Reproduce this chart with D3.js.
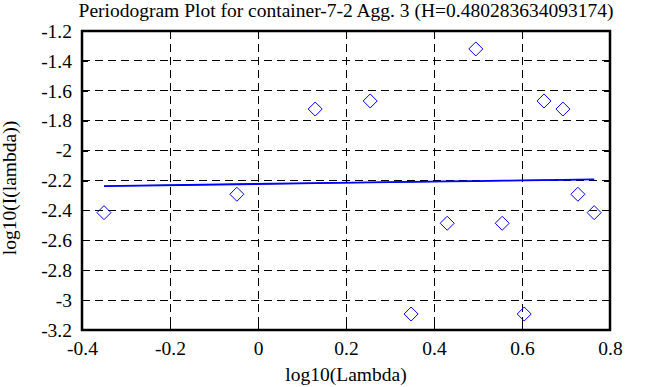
<!DOCTYPE html>
<html><head><meta charset="utf-8">
<script src="https://cdn.jsdelivr.net/npm/d3@7"></script>
<style>html,body{margin:0;padding:0;background:#fff}svg{display:block}svg text{font-family:"Liberation Serif","Times New Roman",serif !important;fill:#000}</style>
</head><body>
<script>
const titleText = "Periodogram Plot for container-7-2 Agg. 3 (H=0.480283634093174)";
const logLambda = [-0.350, -0.048, 0.130, 0.255, 0.348, 0.430, 0.495, 0.555, 0.605, 0.650, 0.693, 0.727, 0.764];
const logI = [-2.415, -2.292, -1.722, -1.668, -3.093, -2.486, -1.320, -2.486, -3.093, -1.668, -1.722, -2.292, -2.415];
const fitI = [-2.237, -2.225, -2.218, -2.213, -2.209, -2.206, -2.204, -2.201, -2.199, -2.197, -2.196, -2.194, -2.193];
const xTicks = [-0.4, -0.2, 0, 0.2, 0.4, 0.6, 0.8];
const yTicks = [-1.2, -1.4, -1.6, -1.8, -2, -2.2, -2.4, -2.6, -2.8, -3, -3.2];

const W = 668, H = 387;
const L = 82, R = 610, T = 31, B = 330;
const FS = "19.5px";
const svg = d3.select("body").append("svg").attr("width", W).attr("height", H);
const x = d3.scaleLinear().domain([-0.4, 0.8]).range([L, R]);
const y = d3.scaleLinear().domain([-3.2, -1.2]).range([B, T]);

// grid
const g = svg.append("g");
xTicks.slice(1, -1).forEach(t => {
  g.append("line").attr("x1", x(t)).attr("x2", x(t)).attr("y1", T).attr("y2", B)
    .attr("stroke", "#000").attr("stroke-width", 1).attr("stroke-dasharray", "8,5")
    .attr("shape-rendering", "crispEdges");
});
yTicks.slice(1, -1).forEach(t => {
  g.append("line").attr("x1", L).attr("x2", R).attr("y1", y(t)).attr("y2", y(t))
    .attr("stroke", "#000").attr("stroke-width", 1).attr("stroke-dasharray", "8,5")
    .attr("shape-rendering", "crispEdges");
});

// axes
const lab = d => String(+d.toFixed(1));
const xAxis = d3.axisBottom(x).tickValues(xTicks).tickFormat(lab).tickSize(-6).tickPadding(11);
const xAxisTop = d3.axisTop(x).tickValues(xTicks).tickFormat("").tickSize(-6);
const yAxis = d3.axisLeft(y).tickValues(yTicks).tickFormat(lab).tickSize(-6).tickPadding(10);
const yAxisR = d3.axisRight(y).tickValues(yTicks).tickFormat("").tickSize(-6);

function style(sel) {
  sel.attr("font-family", null).attr("font-size", null);
  sel.select(".domain").remove();
  sel.selectAll(".tick line").attr("stroke", "#000").attr("stroke-width", 1).attr("shape-rendering", "crispEdges");
  sel.selectAll(".tick text").style("font-size", FS).attr("fill", "#000");
}
svg.append("g").attr("transform", `translate(0,${B})`).call(xAxis).call(style);
svg.append("g").attr("transform", `translate(0,${T})`).call(xAxisTop).call(style);
svg.append("g").attr("transform", `translate(${L},0)`).call(yAxis).call(style);
svg.append("g").attr("transform", `translate(${R},0)`).call(yAxisR).call(style);

svg.append("rect").attr("x", L).attr("y", T).attr("width", R - L).attr("height", B - T)
  .attr("fill", "none").attr("stroke", "#000").attr("stroke-width", 2.5);

// fit line
const pts = logLambda.map((v, i) => [v, fitI[i]]);
svg.append("path").datum(pts).attr("fill", "none").attr("stroke", "#000").attr("stroke-width", 0.8)
  .attr("d", d3.line().x(d => x(d[0])).y(d => y(d[1])));
svg.append("path").datum(pts).attr("fill", "none").attr("stroke", "#0000ff").attr("stroke-width", 1.8)
  .attr("d", d3.line().x(d => x(d[0])).y(d => y(d[1])));

// diamonds
svg.append("g").selectAll("path").data(logLambda.map((v, i) => [v, logI[i]])).join("path")
  .attr("d", d => { const cx = x(d[0]), cy = y(d[1]), r = 7; return `M${cx},${cy - r}L${cx + r},${cy}L${cx},${cy + r}L${cx - r},${cy}Z`; })
  .attr("fill", "none").attr("stroke", "#0000ff").attr("stroke-width", 1);

// titles
svg.append("text").attr("x", 346).attr("y", 17).attr("text-anchor", "middle").style("font-size", FS).text(titleText);
svg.append("text").attr("x", 346).attr("y", 381).attr("text-anchor", "middle").style("font-size", FS).text("log10(Lambda)");
svg.append("text").attr("transform", "translate(16,188) rotate(-90)").attr("text-anchor", "middle").style("font-size", FS).text("log10(I(lambda))");
</script>
</body></html>
